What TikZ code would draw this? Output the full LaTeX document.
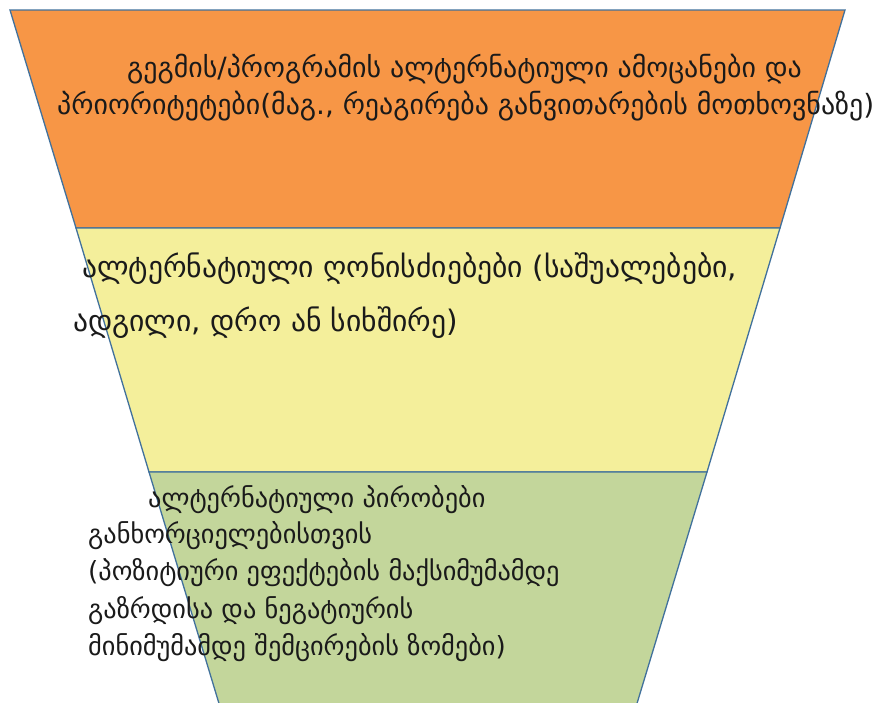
\documentclass[tikz,border=0pt]{standalone}
\usepackage{fontspec}
\newfontfamily\geo{DejaVu Sans}
\definecolor{orangeband}{HTML}{F79646}
\definecolor{yellowband}{HTML}{F4EF9B}
\definecolor{greenband}{HTML}{C3D69B}
\definecolor{edge}{HTML}{41719C}
\definecolor{ink}{HTML}{1A1A1A}
\begin{document}
\begin{tikzpicture}[x=1pt,y=-1pt,
  band/.style={draw=edge, line width=1.3pt, line join=miter},
  gtext/.style={anchor=base west, inner sep=0pt, text=ink},
  topfont/.style={font=\geo\fontsize{27.9}{32}\selectfont},
  midfont/.style={font=\geo\fontsize{29.6}{34}\selectfont},
  lowfont/.style={font=\geo\fontsize{26.3}{30}\selectfont}]
\useasboundingbox (0,0) rectangle (876,702);
\begin{scope}
\clip (0,0) rectangle (876,702);
\fill[white] (0,0) rectangle (876,702);
\draw[band, fill=orangeband] (10,10) -- (845,10) -- (780,228) -- (76,228) -- cycle;
\draw[band, fill=yellowband] (76,228) -- (780,228) -- (707,472) -- (149,472) -- cycle;
\draw[band, fill=greenband] (149,472) -- (707,472) -- (632,720) -- (224,720) -- cycle;
\end{scope}
\node[gtext, topfont] (t1a) at (127,77) {გეგმის/პროგრამის ალტერნატიული ამოცანები და};
\node[gtext, topfont] (t1b) at (57,114) {პრიორიტეტები(მაგ., რეაგირება განვითარების მოთხოვნაზე)};
\node[gtext, midfont] (t2a) at (82,277) {ალტერნატიული ღონისძიებები (საშუალებები,};
\node[gtext, midfont] (t2b) at (73,331) {ადგილი, დრო ან სიხშირე)};
\node[gtext, lowfont] (t3a) at (148,507) {ალტერნატიული პირობები};
\node[gtext, lowfont] (t3b) at (88,543) {განხორციელებისთვის};
\node[gtext, lowfont] (t3c) at (88,580) {(პოზიტიური ეფექტების მაქსიმუმამდე};
\node[gtext, lowfont] (t3d) at (88,618) {გაზრდისა და ნეგატიურის};
\node[gtext, lowfont] (t3e) at (88,655) {მინიმუმამდე შემცირების ზომები)};
\end{tikzpicture}
\end{document}
